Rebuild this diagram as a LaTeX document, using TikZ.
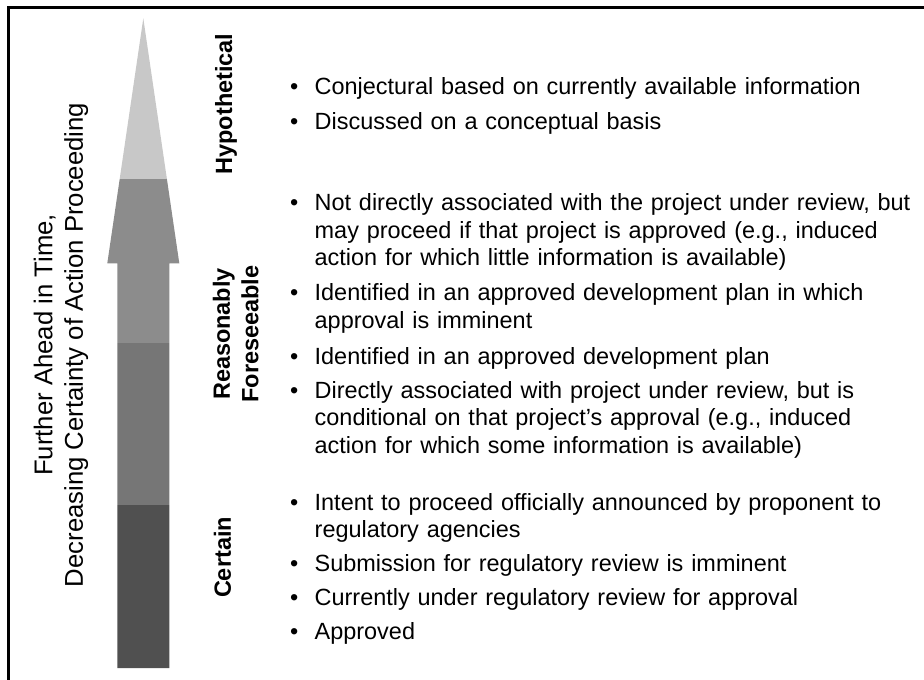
\documentclass[tikz,border=0pt]{standalone}
\usepackage{fontspec}
\setmainfont{Liberation Sans}
\definecolor{hypofill}{HTML}{C8C8C8}
\definecolor{foreAfill}{HTML}{8C8C8C}
\definecolor{foreBfill}{HTML}{767676}
\definecolor{certfill}{HTML}{505050}
\tikzset{
  tier/.style={rotate=90,align=center,inner sep=0pt,
    font=\bfseries\fontsize{23.5}{28.3}\selectfont},
  entry/.style={anchor=base west,text width=632pt,align=left,inner sep=0pt,
    font=\fontsize{23.45}{27.6}\selectfont},
}
\newcommand{\bul}[1]{\hangindent=24.5pt\hangafter=1\noindent\makebox[24.5pt][l]{\textbullet}#1\par}
\newcommand{\nl}{\hfil\break}
\begin{document}
\begin{tikzpicture}[x=1pt,y=1pt]
  \useasboundingbox (0,0) rectangle (924,-680);
  \def\arrowshape{(117.3,-668) -- (117.3,-263.3) -- (107.3,-263.3) -- (143.3,-18.3)
    -- (179.3,-263.3) -- (169.3,-263.3) -- (169.3,-668) -- cycle}
      % frame
      \draw[line width=3pt] (8.8,-680) -- (8.8,-7.5) -- (924,-7.5);
      % arrow in four bands
      \begin{scope}
      \clip \arrowshape;
      \fill[hypofill] (100,0) rectangle (190,-179);
      \fill[foreAfill] (100,-179) rectangle (190,-343);
      \fill[foreBfill] (100,-343) rectangle (190,-505);
      \fill[certfill] (100,-505) rectangle (190,-680);
      \end{scope}
      \node[rotate=90,align=center,inner sep=0pt,
        font=\fontsize{25.7}{30.5}\selectfont] (trend) at (61,-345)
        {Further Ahead in Time,\\Decreasing Certainty of Action Proceeding};
      % tiers
      \node[tier] (hyp) at (226,-104) {Hypothetical};
      \node[tier] (rf) at (235.7,-334) {Reasonably\\Foreseeable};
      \node[tier] (cert) at (222.5,-557.5) {Certain};
      % items
      \node[entry] (h1) at (290,-94) {\bul{Conjectural based on currently available information}};
      \node[entry] (h2) at (290,-129) {\bul{Discussed on a conceptual basis}};
      \node[entry] (r1) at (290,-210.7) {\bul{Not directly associated with the project under review, but\nl
        may proceed if that project is approved (e.g., induced\nl
        action for which little information is available)}};
      \node[entry] (r2) at (290,-300.7) {\bul{Identified in an approved development plan in which\nl
        approval is imminent}};
      \node[entry] (r3) at (290,-364.3) {\bul{Identified in an approved development plan}};
      \node[entry] (r4) at (290,-398.3) {\bul{Directly associated with project under review, but is\nl
        conditional on that project's approval (e.g., induced\nl
        action for which some information is available)}};
      \node[entry] (c1) at (290,-510) {\bul{Intent to proceed officially announced by proponent to\nl
        regulatory agencies}};
      \node[entry] (c2) at (290,-571) {\bul{Submission for regulatory review is imminent}};
      \node[entry] (c3) at (290,-605) {\bul{Currently under regulatory review for approval}};
      \node[entry] (c4) at (290,-639.5) {\bul{Approved}};
\end{tikzpicture}
\end{document}
